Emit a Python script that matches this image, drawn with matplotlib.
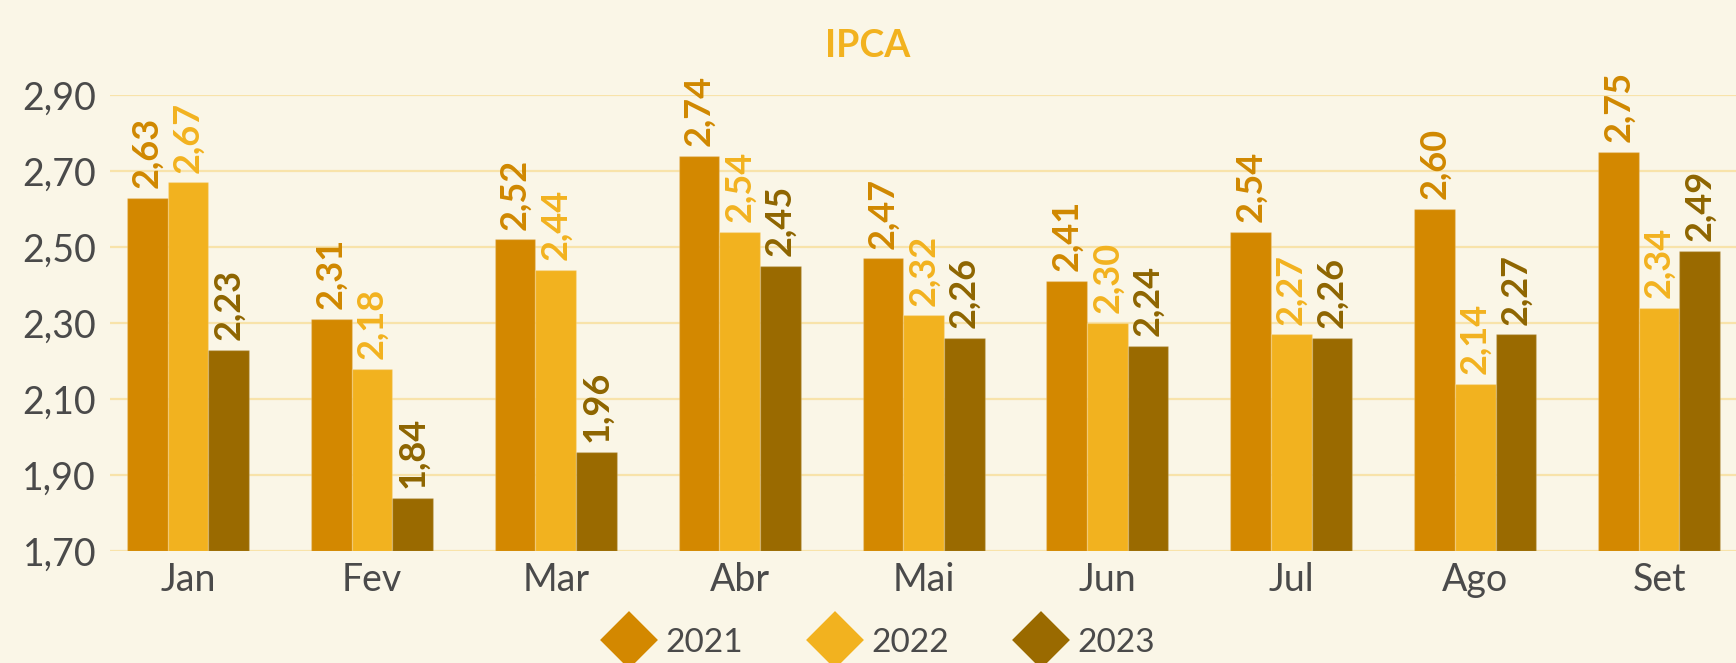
import numpy as np
import matplotlib.pyplot as plt
from matplotlib.lines import Line2D

# IPCA by month, three years
months = ["Jan", "Fev", "Mar", "Abr", "Mai", "Jun", "Jul", "Ago", "Set"]
years = ["2021", "2022", "2023"]
ipca_2021 = [2.63, 2.31, 2.52, 2.74, 2.47, 2.41, 2.54, 2.60, 2.75]
ipca_2022 = [2.67, 2.18, 2.44, 2.54, 2.32, 2.30, 2.27, 2.14, 2.34]
ipca_2023 = [2.23, 1.84, 1.96, 2.45, 2.26, 2.24, 2.26, 2.27, 2.49]
y_ticks = [1.70, 1.90, 2.10, 2.30, 2.50, 2.70, 2.90]

bar_colors = ["#D38800", "#F2B21F", "#9A6A00"]
label_colors = ["#D08800", "#F2B21F", "#8E6500"]
bg = "#FAF6E7"
grid_color = "#F8E3AA"
text_color = "#4A4A4A"

plt.rcParams["font.family"] = ["Lato", "DejaVu Sans"]

fig = plt.figure(figsize=(17.36, 6.63), dpi=100, facecolor=bg)
ax = fig.add_axes([110 / 1736, 112 / 663, 1 - 110 / 1736, 456 / 663])
ax.set_facecolor(bg)

x = np.arange(len(months))
w = 0.221
series = [ipca_2021, ipca_2022, ipca_2023]
for i, vals in enumerate(series):
    pos = x + (i - 1) * w
    ax.bar(pos, [v - 1.70 for v in vals], bottom=1.70, width=w,
           color=bar_colors[i], edgecolor=(1, 1, 1, 0.18), linewidth=1, zorder=3)
    for px, v in zip(pos, vals):
        ax.annotate(f"{v:.2f}".replace(".", ","), (px, v), xytext=(0, 7),
                    textcoords="offset points", rotation=90, ha="center", va="bottom",
                    fontsize=26, fontweight="bold", color=label_colors[i], zorder=4)

ax.set_xlim(-0.424, 8.418)
ax.set_ylim(1.70, 2.90)
ax.set_yticks(y_ticks)
ax.set_yticklabels([f"{t:.2f}".replace(".", ",") for t in y_ticks])
ax.set_xticks(x)
ax.set_xticklabels(months)
ax.tick_params(axis="both", length=0, labelsize=27, colors=text_color)
ax.tick_params(axis="y", pad=10)
ax.tick_params(axis="x", pad=8)
ax.grid(axis="y", color=grid_color, linewidth=1.6, zorder=0)
for s in ax.spines.values():
    s.set_visible(False)

fig.text(0.5, 1 - 46 / 663, "IPCA", ha="center", va="center",
         fontsize=27, fontweight="bold", color="#F2B21F")

handles = [Line2D([], [], linestyle="none", marker="D", markersize=25,
                  markerfacecolor=c, markeredgecolor=c, markeredgewidth=4)
           for c in bar_colors]
leg = fig.legend(handles, years, loc="center", bbox_to_anchor=(0.507, 20 / 663),
                 ncol=3, frameon=False, fontsize=24, handletextpad=0.4,
                 columnspacing=2.05, handlelength=1.4)
for t in leg.get_texts():
    t.set_color(text_color)

fig.savefig("out.png", dpi=100, facecolor=bg)
